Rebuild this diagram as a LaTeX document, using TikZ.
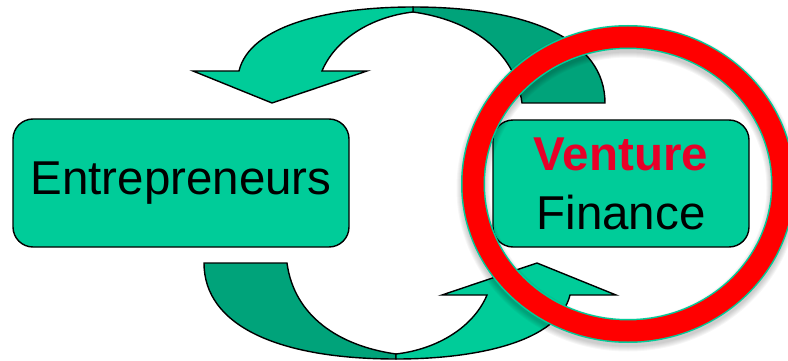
\documentclass[tikz,border=0pt]{standalone}
\usepackage{fontspec}
\setmainfont{Liberation Sans}
\definecolor{bandlight}{RGB}{0,204,153}
\definecolor{banddark}{RGB}{0,163,122}
\definecolor{ringred}{RGB}{255,0,0}
\definecolor{wordred}{RGB}{232,0,40}
\begin{document}
\begin{tikzpicture}[x=1pt, y=-1pt,
  band/.style={draw=black, line width=1.4pt, line join=miter},
  box/.style={draw=black, fill=bandlight, rounded corners=20pt, line width=1.4pt,
    inner sep=0pt, font=\fontsize{47.5}{59}\selectfont}]
  \useasboundingbox (0,0) rectangle (788,361);
  % the two curved arrows, the lower one is the upper one turned round
  \foreach \turn in {0,180} {
    \begin{scope}[rotate around={\turn:(404.5,183)}]
      \draw[band, fill=banddark] (413,7) .. controls (530,7) and (605,40) .. (605,103)
        -- (522,103) .. controls (515,50) and (470,20) .. (413,12) -- cycle;
      \draw[band, fill=bandlight] (413,12) .. controls (370,17) and (335,40) .. (322,71)
        -- (367,71) -- (272,103) -- (193,71) -- (239,71)
        .. controls (250,25) and (330,7) .. (413,7) -- cycle;
    \end{scope}
  }
  \node[box, minimum width=336pt, minimum height=128pt] (entre) at (181,183) {Entrepreneurs};
  \node[box, minimum width=256pt, minimum height=127pt, align=center] (finance) at (621,183.5)
    {{\bfseries\color{wordred}Venture}\\Finance};
  % red ring with its soft shadow
  \foreach \i in {1,...,6}
    \draw[black, opacity=0.035, line width={(21+2*\i)*1pt}] (628,188) ellipse [x radius=155pt, y radius=147pt];
  \draw[bandlight, line width=24pt] (628,184) ellipse [x radius=155pt, y radius=147pt];
  \draw[ringred, line width=21pt] (628,184) ellipse [x radius=155pt, y radius=147pt];
\end{tikzpicture}
\end{document}
